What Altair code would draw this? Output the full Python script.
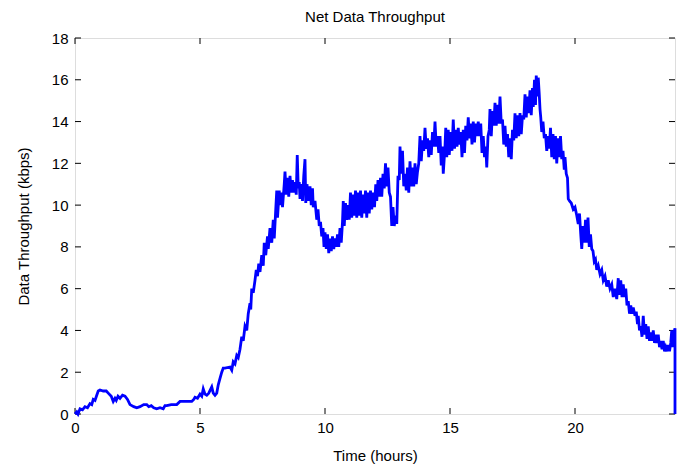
import altair as alt
import pandas as pd

hours = [
    0.0, 0.07, 0.12, 0.2, 0.3, 0.4, 0.5, 0.6, 0.67, 0.73,
    0.8, 0.87, 0.93, 1.0, 1.13, 1.25, 1.33, 1.45, 1.53, 1.6,
    1.65, 1.72, 1.8, 1.9, 2.0, 2.1, 2.2, 2.35, 2.47, 2.6,
    2.75, 2.87, 2.95, 3.05, 3.15, 3.27, 3.4, 3.53, 3.6, 3.67,
    3.85, 4.07, 4.2, 4.4, 4.67, 4.75, 4.8, 4.9, 5.0, 5.07,
    5.13, 5.2, 5.27, 5.35, 5.47, 5.53, 5.6, 5.67, 5.73, 5.8,
    5.87, 5.93, 6.0, 6.2, 6.27, 6.33, 6.4, 6.47, 6.53, 6.6,
    6.67, 6.73, 6.8, 6.87, 6.93, 7.0, 7.03, 7.07, 7.13, 7.2,
    7.25, 7.3, 7.35, 7.4, 7.47, 7.53, 7.57, 7.63, 7.7, 7.73,
    7.8, 7.87, 7.93, 7.97, 8.03, 8.07, 8.1, 8.17, 8.2, 8.27,
    8.3, 8.37, 8.4, 8.45, 8.5, 8.55, 8.6, 8.65, 8.7, 8.73,
    8.8, 8.85, 8.89, 8.93, 8.97, 9.0, 9.05, 9.1, 9.15, 9.2,
    9.23, 9.28, 9.33, 9.4, 9.45, 9.5, 9.53, 9.6, 9.67, 9.72,
    9.77, 9.82, 9.87, 9.92, 9.96, 10.0, 10.05, 10.1, 10.15, 10.2,
    10.25, 10.3, 10.35, 10.4, 10.45, 10.5, 10.55, 10.6, 10.65, 10.7,
    10.73, 10.77, 10.82, 10.87, 10.93, 10.97, 11.02, 11.07, 11.12, 11.17,
    11.22, 11.27, 11.32, 11.37, 11.42, 11.47, 11.52, 11.57, 11.62, 11.67,
    11.72, 11.77, 11.82, 11.87, 11.93, 11.98, 12.03, 12.07, 12.12, 12.17,
    12.22, 12.27, 12.32, 12.37, 12.42, 12.47, 12.52, 12.57, 12.62, 12.67,
    12.72, 12.77, 12.82, 12.87, 12.92, 12.97, 13.0, 13.05, 13.1, 13.15,
    13.2, 13.25, 13.3, 13.35, 13.4, 13.45, 13.5, 13.55, 13.6, 13.65,
    13.7, 13.75, 13.8, 13.85, 13.9, 13.95, 14.0, 14.05, 14.1, 14.15,
    14.2, 14.25, 14.3, 14.35, 14.4, 14.45, 14.5, 14.55, 14.6, 14.65,
    14.7, 14.73, 14.8, 14.83, 14.87, 14.93, 14.97, 15.03, 15.08, 15.13,
    15.18, 15.23, 15.28, 15.33, 15.38, 15.43, 15.48, 15.53, 15.58, 15.63,
    15.68, 15.73, 15.78, 15.83, 15.88, 15.93, 15.98, 16.03, 16.08, 16.13,
    16.18, 16.23, 16.28, 16.33, 16.38, 16.43, 16.47, 16.52, 16.57, 16.6,
    16.65, 16.7, 16.75, 16.8, 16.85, 16.9, 16.95, 17.0, 17.05, 17.1,
    17.15, 17.2, 17.25, 17.3, 17.35, 17.4, 17.45, 17.5, 17.55, 17.6,
    17.65, 17.7, 17.75, 17.8, 17.85, 17.9, 17.95, 18.0, 18.05, 18.1,
    18.15, 18.2, 18.25, 18.3, 18.33, 18.38, 18.42, 18.45, 18.5, 18.53,
    18.57, 18.6, 18.63, 18.67, 18.72, 18.77, 18.82, 18.87, 18.92, 18.97,
    19.02, 19.07, 19.12, 19.17, 19.22, 19.27, 19.32, 19.37, 19.42, 19.47,
    19.52, 19.57, 19.6, 19.65, 19.7, 19.73, 19.78, 19.85, 19.93, 20.0,
    20.07, 20.13, 20.18, 20.23, 20.27, 20.32, 20.37, 20.42, 20.47, 20.52,
    20.57, 20.62, 20.67, 20.72, 20.77, 20.82, 20.87, 20.93, 21.0, 21.07,
    21.13, 21.2, 21.27, 21.33, 21.4, 21.47, 21.53, 21.6, 21.67, 21.73,
    21.77, 21.83, 21.88, 21.93, 21.98, 22.03, 22.08, 22.13, 22.18, 22.23,
    22.28, 22.33, 22.4, 22.45, 22.5, 22.53, 22.58, 22.63, 22.68, 22.73,
    22.78, 22.83, 22.88, 22.93, 22.98, 23.03, 23.08, 23.13, 23.18, 23.23,
    23.28, 23.33, 23.38, 23.43, 23.48, 23.53, 23.58, 23.63, 23.68, 23.73,
    23.78, 23.83, 23.87, 23.92, 23.96, 24.0, 24.0,
]
kbps = [
    0.0, 0.1, 0.0, 0.25, 0.2, 0.35, 0.3, 0.5, 0.45, 0.7,
    0.65, 0.9, 1.1, 1.15, 1.1, 1.1, 1.0, 0.85, 0.6, 0.75,
    0.65, 0.85, 0.75, 0.9, 0.85, 0.7, 0.45, 0.35, 0.3, 0.35,
    0.45, 0.45, 0.35, 0.4, 0.3, 0.25, 0.3, 0.25, 0.4, 0.4,
    0.45, 0.45, 0.6, 0.6, 0.6, 0.7, 0.8, 0.75, 0.95, 0.85,
    1.2, 0.95, 0.9, 1.0, 1.3, 1.0, 0.9, 1.0, 1.4, 1.7,
    2.0, 2.2, 2.2, 2.25, 2.1, 2.5, 2.4, 2.8, 2.7, 3.1,
    3.7, 3.5, 4.2, 4.0, 4.8, 5.3, 5.0, 6.0, 5.8, 6.4,
    6.9, 6.6, 7.2, 6.8, 7.6, 7.1, 8.2, 7.6, 8.5, 7.9,
    8.9, 8.2, 9.3, 8.4, 9.8, 10.7, 9.4, 10.7, 10.0, 10.6,
    9.9, 11.0, 11.6, 10.5, 11.3, 10.4, 11.4, 10.6, 11.2, 10.6,
    11.1, 10.5, 12.4, 10.8, 11.1, 10.3, 11.0, 10.2, 11.4, 12.2,
    10.1, 11.0, 10.2, 10.9, 10.0, 10.8, 9.9, 10.2, 9.3, 9.8,
    9.0, 9.2, 8.5, 8.9, 8.0, 8.7, 7.9, 8.6, 7.7, 8.4,
    7.8, 8.5, 7.9, 8.4, 8.0, 8.6, 8.0, 8.9, 8.2, 9.2,
    10.2, 9.0, 10.1, 9.3, 10.0, 9.3, 10.6, 9.4, 10.5, 9.5,
    10.7, 9.4, 10.6, 9.5, 10.7, 9.4, 10.5, 9.6, 10.7, 9.4,
    10.6, 9.6, 10.7, 9.8, 10.6, 9.9, 11.0, 10.2, 11.2, 10.4,
    11.3, 10.4, 11.5, 10.8, 12.0, 10.9, 11.8, 10.6, 10.4, 9.0,
    9.9, 9.0, 9.5, 9.1, 11.4, 11.2, 12.8, 11.5, 12.6, 10.9,
    11.5, 10.7, 11.8, 10.6, 12.1, 10.9, 11.8, 10.9, 12.0, 11.0,
    11.6, 12.0, 13.3, 12.1, 13.1, 12.6, 13.7, 12.7, 13.2, 12.3,
    13.1, 12.4, 13.5, 12.8, 14.0, 12.8, 13.3, 12.5, 13.3, 11.9,
    12.8, 11.5, 12.8, 13.7, 12.3, 13.6, 12.4, 13.5, 12.6, 14.1,
    12.7, 13.6, 12.8, 13.7, 12.9, 13.5, 12.3, 13.6, 12.5, 13.8,
    13.1, 14.2, 13.2, 13.9, 12.9, 14.0, 13.0, 13.9, 13.3, 14.0,
    13.3, 13.9, 12.5, 13.3, 12.3, 12.8, 11.8, 13.3, 13.6, 14.6,
    13.3, 14.5, 13.8, 14.9, 13.8, 14.8, 13.9, 15.2, 13.9, 14.1,
    12.9, 13.8, 12.8, 13.4, 12.3, 13.2, 12.2, 13.6, 13.1, 14.4,
    13.2, 14.3, 13.3, 14.4, 13.4, 14.3, 14.1, 15.3, 14.2, 15.2,
    14.4, 15.5, 14.3, 15.6, 14.7, 16.0, 14.8, 16.2, 15.2, 16.1,
    15.3, 14.6, 14.2, 13.5, 14.0, 13.2, 13.4, 12.6, 13.3, 12.7,
    13.7, 12.3, 13.4, 12.2, 13.3, 12.0, 13.2, 12.3, 13.3, 12.2,
    12.6, 11.7, 12.3, 11.5, 11.3, 10.3, 10.2, 10.1, 9.8, 9.9,
    9.5, 9.1, 9.6, 8.6, 7.9, 9.0, 8.2, 9.3, 8.2, 9.4,
    8.0, 8.6, 7.9, 7.8, 7.3, 7.4, 6.9, 7.1, 6.7, 6.9,
    6.4, 6.6, 6.1, 6.4, 6.0, 6.2, 5.6, 6.0, 5.5, 6.5,
    5.7, 6.4, 5.6, 6.2, 5.6, 6.0, 5.2, 5.4, 4.8, 5.2,
    4.8, 5.1, 4.7, 4.9, 4.3, 4.7, 4.0, 4.2, 3.7, 4.7,
    3.8, 4.3, 3.6, 4.2, 3.5, 3.9, 3.5, 4.0, 3.4, 3.8,
    3.4, 3.8, 3.2, 3.5, 3.1, 3.5, 3.0, 3.2, 3.0, 3.3,
    3.0, 3.4, 4.0, 3.2, 3.9, 4.1, 0.0,
]

x_ticks = [0, 5, 10, 15, 20]
y_ticks = [0, 2, 4, 6, 8, 10, 12, 14, 16, 18]

df = pd.DataFrame({"t": hours, "v": kbps, "i": list(range(len(hours)))})
xt = pd.DataFrame({"t": x_ticks})
yt = pd.DataFrame({"v": y_ticks})

FONT = "Liberation Sans"
W, H = 600, 376
xs = alt.Scale(domain=[0, 24], nice=False, zero=False)
ys = alt.Scale(domain=[0, 18], nice=False, zero=False)

line = alt.Chart(df).mark_line(color="#0000FF", strokeWidth=2.8, interpolate="linear").encode(
    x=alt.X("t:Q", scale=xs, title="Time (hours)",
            axis=alt.Axis(values=x_ticks, ticks=False, domain=False, grid=False, labelFontSize=15,
                          labelFont=FONT, labelColor="#000", labelPadding=6, labelFlush=False,
                          titleFont=FONT, titleFontSize=15, titleFontWeight="normal",
                          titleColor="#000", titlePadding=13)),
    y=alt.Y("v:Q", scale=ys, title="Data Throughput (kbps)",
            axis=alt.Axis(values=y_ticks, ticks=False, domain=False, grid=False, labelFontSize=15,
                          labelFont=FONT, labelColor="#000", labelPadding=7, labelFlush=False,
                          titleFont=FONT, titleFontSize=15, titleFontWeight="normal",
                          titleColor="#000", titlePadding=20)),
    order="i:Q",
)

tb = alt.Chart(xt).mark_rule(color="#000", strokeWidth=1).encode(
    x=alt.X("t:Q", scale=xs), y=alt.value(H), y2=alt.value(H - 6))
tt = alt.Chart(xt).mark_rule(color="#000", strokeWidth=1).encode(
    x=alt.X("t:Q", scale=xs), y=alt.value(0), y2=alt.value(6))
tl = alt.Chart(yt).mark_rule(color="#000", strokeWidth=1).encode(
    y=alt.Y("v:Q", scale=ys), x=alt.value(0), x2=alt.value(6))
tr = alt.Chart(yt).mark_rule(color="#000", strokeWidth=1).encode(
    y=alt.Y("v:Q", scale=ys), x=alt.value(W), x2=alt.value(W - 6))

chart = alt.layer(tb, tt, tl, tr, line).properties(
    width=W, height=H,
    title=alt.TitleParams("Net Data Throughput", font=FONT, fontSize=15, fontWeight="normal",
                          color="#000", anchor="middle", offset=6),
    autosize=alt.AutoSizeParams(type="none"),
    padding={"left": 67, "top": 30, "right": 8, "bottom": 52},
).configure_view(stroke="#000", strokeWidth=1.2).configure(background="white")

chart.save("out.html", embed_options={"renderer": "svg", "actions": False})
